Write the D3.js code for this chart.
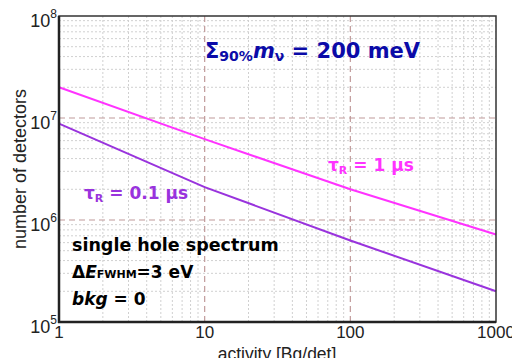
<!DOCTYPE html>
<html>
<head>
<meta charset="utf-8">
<script src="https://cdn.jsdelivr.net/npm/d3@7"></script>
<style>
body { margin: 0; background: #fff; }
svg text { font-family: "Liberation Sans", Arial, sans-serif; }
.bold { font-family: "DejaVu Sans", sans-serif; font-weight: bold; }
</style>
</head>
<body>
<div id="chart"></div>
<script>
// datos
var actividad = [1, 10, 100, 1000];
var tau1us = [2.0e7, 6.2e6, 2.0e6, 7.2e5];
var tau01us = [8.8e6, 2.1e6, 6.3e5, 2.0e5];
var xTicks = [1, 10, 100, 1000];
var yTicks = [1e5, 1e6, 1e7, 1e8];

var width = 512, height = 358;
var margin = { top: 16, right: 16, bottom: 36, left: 59 };

var svg = d3.select("#chart").append("svg")
    .attr("width", width)
    .attr("height", height);

var x = d3.scaleLog().domain([1, 1000]).range([margin.left, width - margin.right]);
var y = d3.scaleLog().domain([1e5, 1e8]).range([height - margin.bottom, margin.top]);

// rejilla menor (punteada)
var minorX = [], minorY = [];
[1, 10, 100].forEach(function(d) { for (var k = 2; k <= 9; k++) minorX.push(d * k); });
[1e5, 1e6, 1e7].forEach(function(d) { for (var k = 2; k <= 9; k++) minorY.push(d * k); });

svg.selectAll("line.minorX").data(minorX).enter().append("line")
    .attr("x1", d => x(d)).attr("x2", d => x(d))
    .attr("y1", y(1e5)).attr("y2", y(1e8))
    .attr("stroke", "#d0d0d0").attr("stroke-width", 1)
    .attr("stroke-dasharray", "2,2");

svg.selectAll("line.minorY").data(minorY).enter().append("line")
    .attr("x1", x(1)).attr("x2", x(1000))
    .attr("y1", d => y(d)).attr("y2", d => y(d))
    .attr("stroke", "#d0d0d0").attr("stroke-width", 1)
    .attr("stroke-dasharray", "2,2");

// rejilla mayor (rayada)
svg.selectAll("line.majorX").data([10, 100]).enter().append("line")
    .attr("x1", d => x(d)).attr("x2", d => x(d))
    .attr("y1", y(1e5)).attr("y2", y(1e8))
    .attr("stroke", "#c09a9a").attr("stroke-width", 1.2)
    .attr("stroke-dasharray", "6,4");

svg.selectAll("line.majorY").data([1e6, 1e7]).enter().append("line")
    .attr("x1", x(1)).attr("x2", x(1000))
    .attr("y1", d => y(d)).attr("y2", d => y(d))
    .attr("stroke", "#c09a9a").attr("stroke-width", 1.2)
    .attr("stroke-dasharray", "6,4");

// curvas
var linea = d3.line().x(d => x(d[0])).y(d => y(d[1]));

svg.append("path")
    .datum(actividad.map((a, i) => [a, tau1us[i]]))
    .attr("fill", "none").attr("stroke", "#ff33ff").attr("stroke-width", 2)
    .attr("d", linea);

svg.append("path")
    .datum(actividad.map((a, i) => [a, tau01us[i]]))
    .attr("fill", "none").attr("stroke", "#9933dd").attr("stroke-width", 2)
    .attr("d", linea);

// marco
svg.append("rect")
    .attr("x", x(1)).attr("y", y(1e8))
    .attr("width", x(1000) - x(1)).attr("height", y(1e5) - y(1e8))
    .attr("fill", "none").attr("stroke", "#333").attr("stroke-width", 1.5);
svg.append("line")
    .attr("x1", x(1)).attr("x2", x(1)).attr("y1", y(1e8)).attr("y2", y(1e5) + 1)
    .attr("stroke", "#222").attr("stroke-width", 2.5);
svg.append("line")
    .attr("x1", x(1) - 1).attr("x2", x(1000)).attr("y1", y(1e5)).attr("y2", y(1e5))
    .attr("stroke", "#222").attr("stroke-width", 2.5);

// etiquetas de los ejes
svg.selectAll("text.xtick").data(xTicks).enter().append("text")
    .attr("x", d => x(d)).attr("y", y(1e5) + 16)
    .attr("text-anchor", "middle").style("font-size", "17px").attr("fill", "#222")
    .text(d => d);

var yt = svg.selectAll("text.ytick").data(yTicks).enter().append("text")
    .attr("x", x(1) - 2).attr("y", d => y(d) + 11)
    .attr("text-anchor", "end").style("font-size", "18px").attr("fill", "#222");
yt.append("tspan").text("10");
yt.append("tspan").attr("dy", "-9").style("font-size", "12px").text(d => Math.round(Math.log10(d)));

svg.append("text")
    .attr("x", 277).attr("y", height + 2)
    .attr("text-anchor", "middle").style("font-size", "17.5px").attr("fill", "#222")
    .text("activity [Bq/det]");

svg.append("text")
    .attr("transform", "translate(26," + ((y(1e5) + y(1e8)) / 2) + ") rotate(-90)")
    .attr("text-anchor", "middle").style("font-size", "18px").attr("fill", "#222")
    .text("number of detectors");

// anotaciones
var t = svg.append("text").attr("class", "bold")
    .attr("x", 205).attr("y", 58).attr("fill", "#0b0ba8").style("font-size", "21px");
t.append("tspan").text("Σ");
t.append("tspan").attr("dy", 3).style("font-size", "14px").text("90%");
t.append("tspan").attr("dy", -3).style("font-style", "italic").text("m");
t.append("tspan").attr("dy", 3).style("font-size", "14px").text("ν");
t.append("tspan").attr("dy", -3).text(" = 200 meV");

var t1 = svg.append("text").attr("class", "bold")
    .attr("x", 328).attr("y", 171).attr("fill", "#ff33ff").style("font-size", "17px");
t1.append("tspan").text("τ");
t1.append("tspan").attr("dy", 3).style("font-size", "11px").text("R");
t1.append("tspan").attr("dy", -3).text(" = 1 μs");

var t2 = svg.append("text").attr("class", "bold")
    .attr("x", 84).attr("y", 199).attr("fill", "#9933dd").style("font-size", "17px");
t2.append("tspan").text("τ");
t2.append("tspan").attr("dy", 3).style("font-size", "11px").text("R");
t2.append("tspan").attr("dy", -3).text(" = 0.1 μs");

svg.append("text").attr("class", "bold")
    .attr("x", 72).attr("y", 251).attr("fill", "#000").style("font-size", "17.5px")
    .text("single hole spectrum");

var t3 = svg.append("text").attr("class", "bold")
    .attr("x", 72).attr("y", 278).attr("fill", "#000").style("font-size", "17px");
t3.append("tspan").text("Δ");
t3.append("tspan").style("font-style", "italic").text("E");
t3.append("tspan").style("font-size", "11px").text("FWHM");
t3.append("tspan").text("=3 eV");

var t4 = svg.append("text").attr("class", "bold")
    .attr("x", 72).attr("y", 305).attr("fill", "#000").style("font-size", "17px");
t4.append("tspan").style("font-style", "italic").text("bkg");
t4.append("tspan").text(" = 0");
</script>
</body>
</html>
